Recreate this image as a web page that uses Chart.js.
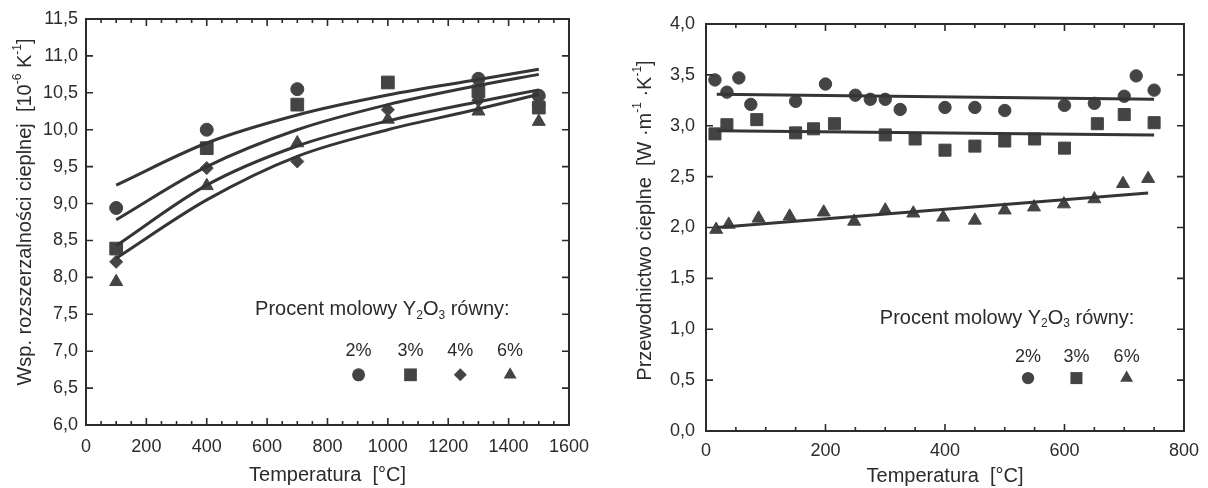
<!DOCTYPE html>
<html>
<head>
<meta charset="utf-8">
<script src="https://cdn.jsdelivr.net/npm/chart.js@4/dist/chart.umd.min.js"></script>
<style>
    body { margin: 0; background: #fff; width: 1208px; height: 488px; overflow: hidden; position: relative; }
    .box { position: absolute; top: 0; height: 488px; }
    #leftBox { left: 0; width: 600px; }
    #rightBox { left: 600px; width: 608px; }
</style>
</head>
<body>
<div class="box" id="leftBox"><canvas id="expChart"></canvas></div>
<div class="box" id="rightBox"><canvas id="condChart"></canvas></div>
<script>
// Thermal expansion (left)
const expTemps = [100, 400, 700, 1000, 1300, 1500];
const exp2 = [8.94, 10.0, 10.55, null, 10.69, 10.46];
const exp3 = [8.39, 9.75, 10.34, 10.64, 10.52, 10.3];
const exp4 = [8.21, 9.48, 9.57, 10.27, 10.4, 10.34];
const exp6 = [7.94, 9.24, 9.82, 10.14, 10.25, 10.11];
// fitted curves
const fitTemps = [100, 400, 700, 1000, 1300, 1500];
const fitA = [9.25, 9.82, 10.2, 10.47, 10.68, 10.82];
const fitB = [8.78, 9.5, 10.0, 10.34, 10.6, 10.75];
const fitC = [8.43, 9.25, 9.78, 10.12, 10.38, 10.54];
const fitD = [8.26, 9.05, 9.64, 10.0, 10.28, 10.48];
const expLabels = ['2%', '3%', '4%', '6%'];

// Thermal conductivity (right)
const cond2Temps = [15, 35, 55, 75, 150, 200, 250, 275, 300, 325, 400, 450, 500, 600, 650, 700, 720, 750];
const cond2 = [3.45, 3.33, 3.47, 3.21, 3.24, 3.41, 3.30, 3.26, 3.26, 3.16, 3.18, 3.18, 3.15, 3.20, 3.22, 3.29, 3.49, 3.35];
const cond3Temps = [15, 35, 85, 150, 180, 215, 300, 350, 400, 450, 500, 550, 600, 655, 700, 750];
const cond3 = [2.92, 3.01, 3.06, 2.93, 2.97, 3.02, 2.91, 2.87, 2.76, 2.80, 2.85, 2.87, 2.78, 3.02, 3.11, 3.03];
const cond6Temps = [17, 38, 88, 140, 197, 248, 300, 347, 397, 450, 500, 549, 599, 650, 698, 740];
const cond6 = [1.98, 2.03, 2.09, 2.11, 2.15, 2.06, 2.17, 2.14, 2.10, 2.07, 2.17, 2.20, 2.23, 2.28, 2.43, 2.48];
const condFitTemps = [18, 750];
const condFit2 = [3.31, 3.26];
const condFit3 = [2.95, 2.91];
const condFit6Temps = [18, 740];
const condFit6 = [2.00, 2.34];
const condLabels = ['2%', '3%', '6%'];

const INK = '#2b2b2b';
const MARK = '#444444';
const FONT = "'Liberation Sans', Arial, 'DejaVu Sans', sans-serif";
Chart.defaults.font.family = FONT;
Chart.defaults.color = INK;

function pts(xs, ys) {
    return xs.map((x, i) => ({x: x, y: ys[i]}));
}

function markerSet(label, xs, ys, style, r) {
    return {
        label: label, data: pts(xs, ys), showLine: false, order: 1,
        pointStyle: style, pointRadius: r, pointHoverRadius: r,
        pointBackgroundColor: MARK, pointBorderColor: MARK, pointBorderWidth: 1
    };
}

function fitSet(xs, ys) {
    return {
        data: pts(xs, ys), showLine: true, order: 0, pointRadius: 0,
        borderColor: '#353535', borderWidth: 3, cubicInterpolationMode: 'monotone', fill: false
    };
}

function drawMarker(ctx, style, x, y, r) {
    ctx.beginPath();
    if (style == 'circle') {
        ctx.arc(x, y, r, 0, Math.PI * 2);
    } else if (style == 'rect') {
        const s = Math.SQRT1_2 * r;
        ctx.rect(x - s, y - s, 2 * s, 2 * s);
    } else if (style == 'rectRot') {
        ctx.moveTo(x - r, y); ctx.lineTo(x, y - r); ctx.lineTo(x + r, y); ctx.lineTo(x, y + r);
        ctx.closePath();
    } else if (style == 'triangle') {
        const a = 2 * Math.PI / 3;
        ctx.moveTo(x, y - r);
        ctx.lineTo(x + Math.sin(a) * r, y - Math.cos(a) * r);
        ctx.lineTo(x + Math.sin(2 * a) * r, y - Math.cos(2 * a) * r);
        ctx.closePath();
    }
    ctx.fill();
}

// text made of pieces, some raised (sup) or lowered (sub)
function richWidth(ctx, parts, size) {
    let w = 0;
    parts.forEach(([t, mode]) => {
        ctx.font = (mode ? Math.round(size * 0.62) : size) + 'px ' + FONT;
        w += ctx.measureText(t).width;
    });
    return w;
}
function drawRich(ctx, parts, x, y, size) {
    parts.forEach(([t, mode]) => {
        ctx.font = (mode ? Math.round(size * 0.62) : size) + 'px ' + FONT;
        let dy = 0;
        if (mode == 'sub') dy = size * 0.28;
        if (mode == 'sup') dy = -size * 0.38;
        ctx.fillText(t, x, y + dy);
        x += ctx.measureText(t).width;
    });
}

// frame box with inward ticks on all four sides
const framePlugin = {
    id: 'frame',
    afterDatasetsDraw(chart, args, opts) {
        const {ctx, chartArea: a, scales: {x, y}} = chart;
        ctx.save();
        ctx.strokeStyle = INK;
        ctx.lineWidth = 2;
        ctx.strokeRect(a.left, a.top, a.right - a.left, a.bottom - a.top);
        ctx.lineWidth = 1.6;
        ctx.beginPath();
        const nx = Math.round((x.max - x.min) / opts.xMinor);
        for (let i = 1; i < nx; i++) {
            const v = x.min + i * opts.xMinor;
            const px = x.getPixelForValue(v);
            const len = (v % opts.xMajor == 0) ? 7 : 4;
            ctx.moveTo(px, a.bottom); ctx.lineTo(px, a.bottom - len);
            ctx.moveTo(px, a.top); ctx.lineTo(px, a.top + len);
        }
        const ny = Math.round((y.max - y.min) / opts.yStep);
        for (let i = 1; i < ny; i++) {
            const py = y.getPixelForValue(y.min + i * opts.yStep);
            ctx.moveTo(a.left, py); ctx.lineTo(a.left + 7, py);
            ctx.moveTo(a.right, py); ctx.lineTo(a.right - 7, py);
        }
        ctx.stroke();

        // rotated y axis title
        ctx.fillStyle = INK;
        ctx.textBaseline = 'middle';
        ctx.textAlign = 'left';
        const w = richWidth(ctx, opts.yTitle, 20);
        ctx.translate(a.left - opts.yTitleGap, (a.top + a.bottom) / 2 - opts.yTitleShift);
        ctx.rotate(-Math.PI / 2);
        drawRich(ctx, opts.yTitle, -w / 2, 0, 20);
        ctx.restore();
    }
};

// legend box: "Procent molowy Y2O3 równy:" with labels above markers
const legendPlugin = {
    id: 'yLegend',
    afterDraw(chart, args, opts) {
        const {ctx, scales: {x, y}} = chart;
        ctx.save();
        ctx.fillStyle = INK;
        ctx.textBaseline = 'middle';
        ctx.textAlign = 'left';
        const parts = [['Procent molowy Y'], ['2', 'sub'], ['O'], ['3', 'sub'], [' równy:']];
        drawRich(ctx, parts, x.getPixelForValue(opts.titleX), y.getPixelForValue(opts.titleY), 20);
        ctx.font = '18px ' + FONT;
        ctx.textAlign = 'center';
        const sets = chart.data.datasets.filter(d => d.label);
        sets.forEach((d, i) => {
            const cx = x.getPixelForValue(opts.cols[i]);
            ctx.fillStyle = INK;
            ctx.fillText(d.label, cx, y.getPixelForValue(opts.labelY));
            ctx.fillStyle = MARK;
            drawMarker(ctx, d.pointStyle, cx, y.getPixelForValue(opts.markY), d.pointRadius);
        });
        ctx.restore();
    }
};

function yFmt(v) {
    return Number(v).toFixed(1).replace('.', ',');
}
function xFmt(v) {
    return String(v);
}

function makeChart(id, datasets, cfg) {
    return new Chart(document.getElementById(id), {
        type: 'line',
        data: {datasets: datasets},
        plugins: [framePlugin, legendPlugin],
        options: {
            responsive: true, maintainAspectRatio: false, animation: false,
            devicePixelRatio: 1,
            layout: {padding: {top: cfg.padTop, right: cfg.padRight, left: 0, bottom: 0}},
            plugins: {
                legend: {display: false}, tooltip: {enabled: false},
                frame: {xMinor: 50, xMajor: 200, yStep: 0.5, yTitle: cfg.yTitle,
                    yTitleGap: cfg.yTitleGap, yTitleShift: cfg.yTitleShift},
                yLegend: cfg.legend
            },
            scales: {
                x: {
                    type: 'linear', min: 0, max: cfg.xMax,
                    grid: {display: false, drawTicks: false}, border: {display: false},
                    ticks: {stepSize: 200, padding: cfg.xPad, font: {size: 18}, color: INK, maxRotation: 0, callback: xFmt},
                    title: {display: true, text: 'Temperatura  [°C]', font: {size: 20}, color: INK,
                        padding: {top: 0, bottom: cfg.xTitlePad}},
                    afterFit: s => { s.height = cfg.xHeight; }
                },
                y: {
                    min: cfg.yMin, max: cfg.yMax,
                    grid: {display: false, drawTicks: false}, border: {display: false},
                    ticks: {stepSize: 0.5, padding: cfg.yPad, font: {size: 18}, color: INK, callback: yFmt},
                    afterFit: s => { s.width = cfg.yWidth; }
                }
            }
        }
    });
}

makeChart('expChart', [
    markerSet(expLabels[0], expTemps, exp2, 'circle', 6.5),
    markerSet(expLabels[1], expTemps, exp3, 'rect', 9),
    markerSet(expLabels[2], expTemps, exp4, 'rectRot', 6.5),
    markerSet(expLabels[3], expTemps, exp6, 'triangle', 7.5),
    fitSet(fitTemps, fitA), fitSet(fitTemps, fitB), fitSet(fitTemps, fitC), fitSet(fitTemps, fitD)
], {
    padTop: 19, padRight: 28, xHeight: 63, yWidth: 86, xPad: 11, yPad: 8,
    xTitlePad: 1, xMax: 1600, yMin: 6, yMax: 11.5,
    yTitle: [['Wsp. rozszerzalności cieplnej  [10'], ['-6', 'sup'], [' K'], ['-1', 'sup'], [']']],
    yTitleGap: 61, yTitleShift: 10,
    legend: {titleX: 560, titleY: 7.56, labelY: 7.0, markY: 6.68, cols: [903, 1075, 1240, 1405]}
});

makeChart('condChart', [
    markerSet(condLabels[0], cond2Temps, cond2, 'circle', 6.2),
    markerSet(condLabels[1], cond3Temps, cond3, 'rect', 8.5),
    markerSet(condLabels[2], cond6Temps, cond6, 'triangle', 7.5),
    fitSet(condFitTemps, condFit2), fitSet(condFitTemps, condFit3), fitSet(condFit6Temps, condFit6)
], {
    padTop: 24, padRight: 18, xHeight: 57, yWidth: 106, xPad: 9, yPad: 11,
    xTitlePad: 0, xMax: 800, yMin: 0, yMax: 4,
    yTitle: [['Przewodnictwo cieplne  [W ·m'], ['-1', 'sup'], [' ·K'], ['-1', 'sup'], [']']],
    yTitleGap: 61, yTitleShift: 7,
    legend: {titleX: 291, titleY: 1.11, labelY: 0.73, markY: 0.52, cols: [539, 620, 704]}
});
</script>
</body>
</html>
